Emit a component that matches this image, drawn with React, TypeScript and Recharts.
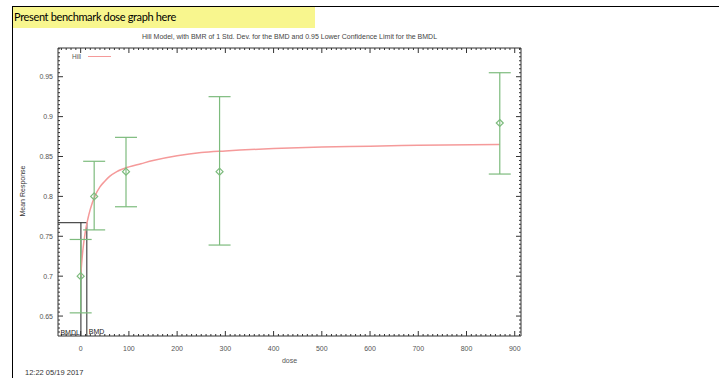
import React from "react";
import {
  ComposedChart,
  Line,
  Scatter,
  ErrorBar,
  XAxis,
  YAxis,
  ReferenceLine,
} from "recharts";

// observed group means with confidence limits
const doses = [0, 28, 94, 288, 869];
const means = [0.7, 0.8, 0.831, 0.831, 0.892];
const lowers = [0.654, 0.758, 0.787, 0.739, 0.828];
const uppers = [0.746, 0.844, 0.874, 0.925, 0.955];

// fitted Hill curve
const curveDose = [0, 2, 5, 10, 15, 20, 30, 40, 50, 60, 75, 100, 125, 150, 200, 250, 300, 400, 500, 600, 700, 869];
const curveResp = [0.7, 0.716, 0.735, 0.757, 0.772, 0.784, 0.801, 0.812, 0.819, 0.825, 0.831, 0.837, 0.841, 0.845, 0.851, 0.855, 0.857, 0.86, 0.862, 0.863, 0.864, 0.865];

const bmdl = 0.5;
const bmd = 12.8;
const bmr = 0.767;

const xDomain: [number, number] = [-47, 913];
const yDomain: [number, number] = [0.625, 0.986];

const xMajor = [0, 100, 200, 300, 400, 500, 600, 700, 800, 900];
const yMajor = [0.65, 0.7, 0.75, 0.8, 0.85, 0.9, 0.95];
const xTicks = Array.from({ length: 96 }, (_, i) => -40 + i * 10);
const yTicks = Array.from({ length: 72 }, (_, i) => (630 + i * 5) / 1000);

const points = doses.map((d, i) => ({
  dose: d,
  mean: means[i],
  err: [means[i] - lowers[i], uppers[i] - means[i]],
}));
const curve = curveDose.map((d, i) => ({ dose: d, resp: curveResp[i] }));

const FONT = "'Liberation Sans', Arial, sans-serif";
const TXT = "#555";
const AX = "#333";
const GREEN = "#7dbb7d";
const RED = "#f59a9a";

const isMajorX = (v: number) => xMajor.includes(v);
const isMajorY = (v: number) => yMajor.some((m) => Math.abs(m - v) < 1e-6);

function BottomTick(props: any) {
  const { x, y, payload } = props;
  const major = isMajorX(payload.value);
  return (
    <g>
      <line x1={x} x2={x} y1={y} y2={y - (major ? 5 : 2)} stroke={AX} />
      {major && (
        <text x={x} y={y + 15} textAnchor="middle" fontSize={7} fill={TXT} fontFamily={FONT}>
          {payload.value}
        </text>
      )}
    </g>
  );
}

function TopTick(props: any) {
  const { x, y, payload } = props;
  const major = isMajorX(payload.value);
  return <line x1={x} x2={x} y1={y} y2={y + (major ? 5 : 2)} stroke={AX} />;
}

function LeftTick(props: any) {
  const { x, y, payload } = props;
  const major = isMajorY(payload.value);
  return (
    <g>
      <line x1={x} x2={x + (major ? 5 : 2)} y1={y} y2={y} stroke={AX} />
      {major && (
        <text x={x - 5} y={y + 2.5} textAnchor="end" fontSize={7} fill={TXT} fontFamily={FONT}>
          {payload.value}
        </text>
      )}
    </g>
  );
}

function RightTick(props: any) {
  const { x, y, payload } = props;
  const major = isMajorY(payload.value);
  return <line x1={x} x2={x - (major ? 5 : 2)} y1={y} y2={y} stroke={AX} />;
}

function Diamond(props: any) {
  const { cx, cy } = props;
  const r = 3.5;
  return (
    <polygon
      points={`${cx},${cy - r} ${cx + r},${cy} ${cx},${cy + r} ${cx - r},${cy}`}
      fill="none"
      stroke={GREEN}
      strokeWidth={1.2}
    />
  );
}

export default function App() {
  return (
    <div style={{ position: "absolute", left: 0, top: 0, width: 719, height: 378, background: "#fff", overflow: "hidden" }}>
      <div style={{ position: "absolute", left: 12, top: 6, width: 707, height: 0, borderTop: "1.5px solid #000" }} />
      <div style={{ position: "absolute", left: 12, top: 6, width: 0, height: 372, borderLeft: "1.5px solid #000" }} />
      <div
        style={{
          position: "absolute",
          left: 13,
          top: 7,
          width: 302,
          height: 21,
          background: "#f8f68e",
          fontFamily: "Lato, 'Open Sans', sans-serif",
          fontSize: 11,
          letterSpacing: -0.35,
          lineHeight: "20px",
          paddingLeft: 1,
          boxSizing: "border-box",
          color: "#000",
        }}
      >
        Present benchmark dose graph here
      </div>
      <div style={{ position: "absolute", left: 58, width: 463, top: 33, textAlign: "center", fontFamily: FONT, fontSize: 7, color: "#444" }}>
        Hill Model, with BMR of 1 Std. Dev. for the BMD and 0.95 Lower Confidence Limit for the BMDL
      </div>
      <div
        style={{
          position: "absolute",
          left: 22,
          top: 191,
          transform: "translate(-50%, -50%) rotate(-90deg)",
          fontFamily: FONT,
          fontSize: 7,
          color: "#333",
          whiteSpace: "nowrap",
        }}
      >
        Mean Response
      </div>
      <div style={{ position: "absolute", left: 58, width: 463, top: 357, textAlign: "center", fontFamily: FONT, fontSize: 7, color: TXT }}>
        dose
      </div>
      <div style={{ position: "absolute", left: 25, top: 368, fontFamily: FONT, fontSize: 7.5, color: "#333" }}>
        12:22 05/19 2017
      </div>
      <div style={{ position: "absolute", left: 72, top: 53, fontFamily: FONT, fontSize: 6.5, color: TXT }}>Hill</div>
      <div style={{ position: "absolute", left: 88, top: 56, width: 23, height: 0, borderTop: `1.5px solid ${RED}` }} />

      <div style={{ position: "absolute", left: 0, top: 0 }}>
        <ComposedChart width={719} height={378} margin={{ top: 47, right: 197, bottom: 41, left: 57 }}>
          <XAxis
            xAxisId="b"
            dataKey="dose"
            type="number"
            domain={xDomain}
            allowDataOverflow
            ticks={xTicks}
            interval={0}
            height={1}
            tickSize={0}
            tickMargin={0}
            tickLine={false}
            tick={<BottomTick />}
            axisLine={{ stroke: AX }}
          />
          <XAxis
            xAxisId="t"
            orientation="top"
            dataKey="dose"
            type="number"
            domain={xDomain}
            allowDataOverflow
            ticks={xTicks}
            interval={0}
            height={1}
            tickSize={0}
            tickMargin={0}
            tickLine={false}
            tick={<TopTick />}
            axisLine={{ stroke: AX }}
          />
          <YAxis
            yAxisId="l"
            type="number"
            domain={yDomain}
            allowDataOverflow
            ticks={yTicks}
            interval={0}
            width={1}
            tickSize={0}
            tickMargin={0}
            tickLine={false}
            tick={<LeftTick />}
            axisLine={{ stroke: AX }}
          />
          <YAxis
            yAxisId="r"
            orientation="right"
            type="number"
            domain={yDomain}
            allowDataOverflow
            ticks={yTicks}
            interval={0}
            width={1}
            tickSize={0}
            tickMargin={0}
            tickLine={false}
            tick={<RightTick />}
            axisLine={{ stroke: AX }}
          />
          <ReferenceLine
            xAxisId="b"
            yAxisId="l"
            segment={[{ x: xDomain[0], y: bmr }, { x: bmd, y: bmr }]}
            stroke="#222"
          />
          <ReferenceLine
            xAxisId="b"
            yAxisId="l"
            segment={[{ x: bmdl, y: yDomain[0] }, { x: bmdl, y: bmr }]}
            stroke="#222"
            label={{ value: "BMDL", position: "insideBottomRight", offset: 1, fontSize: 7, fill: "#222", fontFamily: FONT }}
          />
          <ReferenceLine
            xAxisId="b"
            yAxisId="l"
            segment={[{ x: bmd, y: yDomain[0] }, { x: bmd, y: bmr }]}
            stroke="#222"
            label={{ value: "BMD", position: "insideBottomLeft", offset: 2, fontSize: 7, fill: "#222", fontFamily: FONT }}
          />
          <Line
            xAxisId="b"
            yAxisId="l"
            data={curve}
            dataKey="resp"
            type="monotone"
            stroke={RED}
            strokeWidth={1.5}
            dot={false}
            isAnimationActive={false}
          />
          <Scatter
            xAxisId="b"
            yAxisId="l"
            data={points}
            dataKey="mean"
            shape={<Diamond />}
            isAnimationActive={false}
          >
            <ErrorBar dataKey="err" direction="y" width={11} stroke={GREEN} strokeWidth={1.2} />
          </Scatter>
        </ComposedChart>
      </div>
    </div>
  );
}
